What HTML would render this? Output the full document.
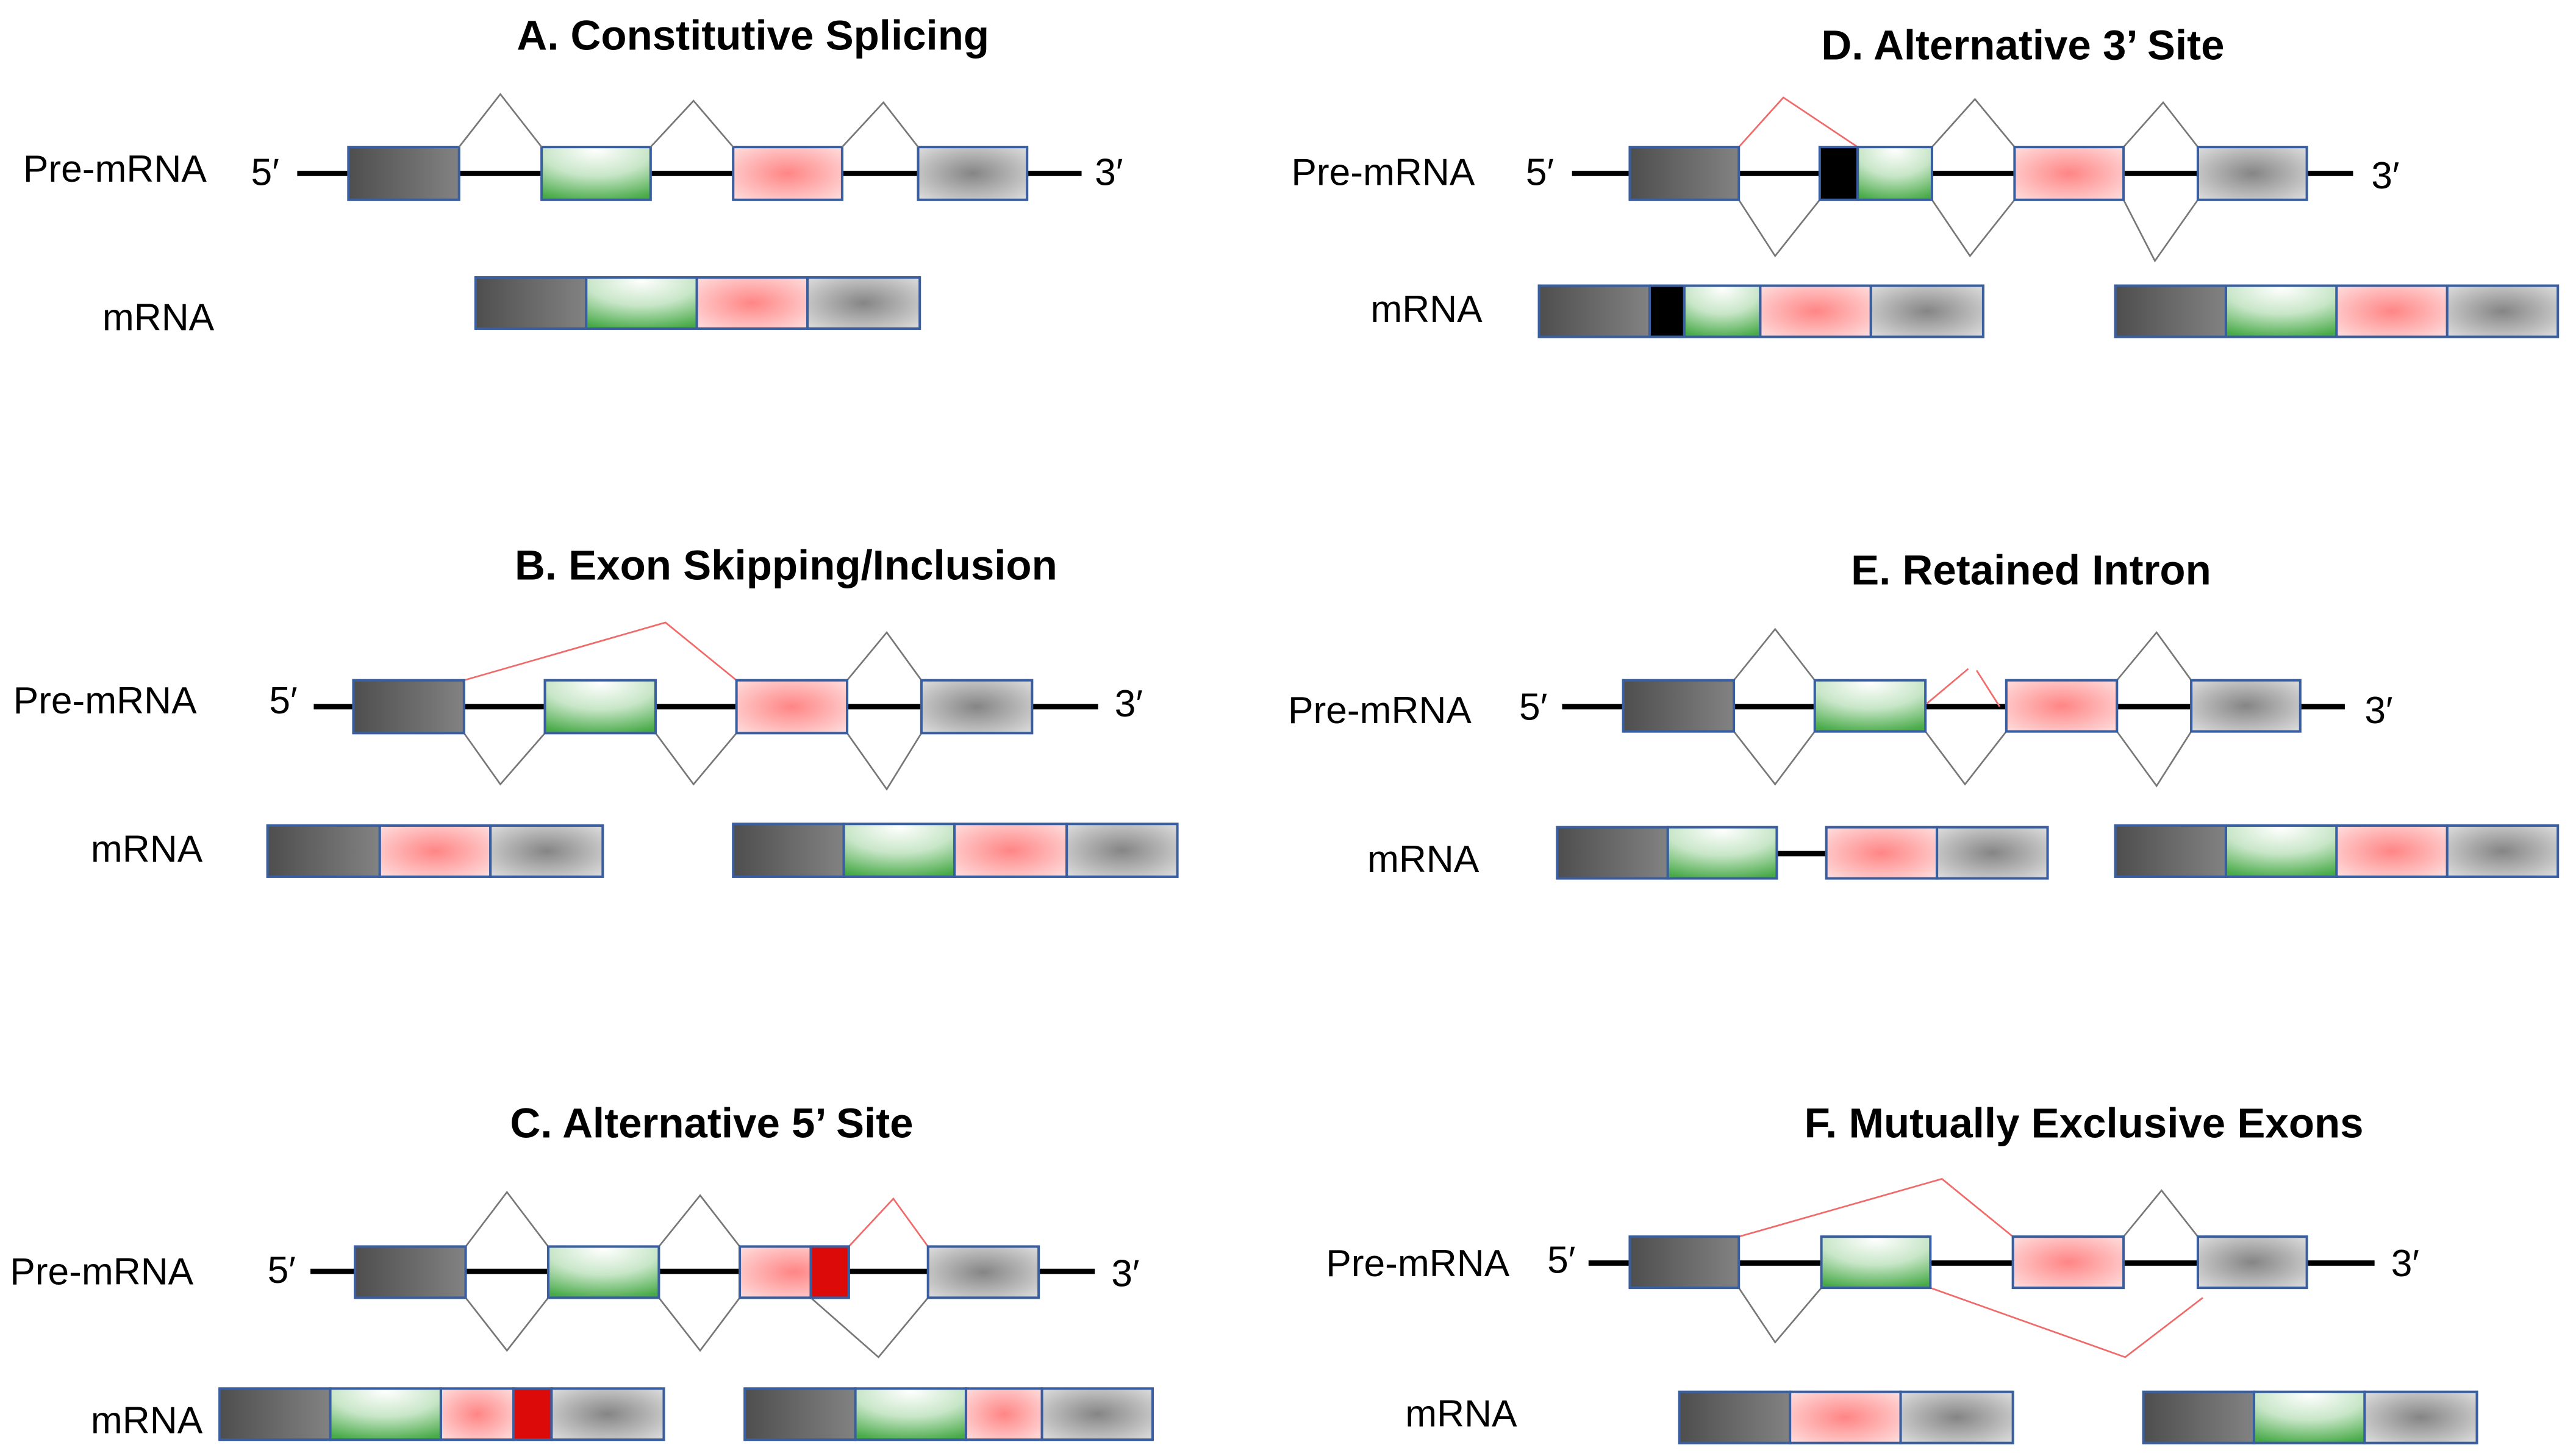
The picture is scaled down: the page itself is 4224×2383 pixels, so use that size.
<!DOCTYPE html>
<html><head><meta charset="utf-8"><style>
html,body{margin:0;padding:0;background:#fff;}
svg{display:block;}
text{font-family:"Liberation Sans",Arial,sans-serif;fill:#000;}
.t{font-weight:bold;font-size:25.5px;}
.l{font-size:23px;}
.ln{stroke:#000;stroke-width:3.2;fill:none;}
.g{stroke:#777;stroke-width:1;fill:none;}
.r{stroke:#f06a6a;stroke-width:1;fill:none;}
.e{stroke:#3a5fa0;stroke-width:1.5;}
</style></head><body>
<svg width="4224" height="2383" viewBox="0 0 1560 880" xmlns="http://www.w3.org/2000/svg">
<defs>
<linearGradient id="dk" x1="0" x2="1" y1="0" y2="0"><stop offset="0" stop-color="#4e4e4e"/><stop offset="1" stop-color="#828282"/></linearGradient>
<radialGradient id="gr" cx="0.5" cy="0.05" r="1.0"><stop offset="0" stop-color="#ffffff"/><stop offset="0.5" stop-color="#c8e6c8"/><stop offset="1" stop-color="#47aa47"/></radialGradient>
<radialGradient id="pk" cx="0.5" cy="0.5" r="0.75"><stop offset="0" stop-color="#ff8585"/><stop offset="1" stop-color="#ffe4e4"/></radialGradient>
<radialGradient id="gy" cx="0.5" cy="0.5" r="0.75"><stop offset="0" stop-color="#858585"/><stop offset="1" stop-color="#e4e4e4"/></radialGradient>
</defs>
<rect width="1560" height="880" fill="#fff"/>

<!-- A -->
<text class="t" x="456" y="30" text-anchor="middle">A. Constitutive Splicing</text>
<text class="l" x="14" y="110">Pre-mRNA</text>
<text class="l" x="152" y="112">5′</text><text class="l" x="663" y="112">3′</text>
<line class="ln" x1="180" y1="105" x2="655" y2="105"/>
<rect class="e" x="211" y="89" width="67" height="32" fill="url(#dk)"/>
<rect class="e" x="328" y="89" width="66" height="32" fill="url(#gr)"/>
<rect class="e" x="444" y="89" width="66" height="32" fill="url(#pk)"/>
<rect class="e" x="556" y="89" width="66" height="32" fill="url(#gy)"/>
<polyline class="g" points="278,89 303,57 328,89"/>
<polyline class="g" points="394,89 420,61 444,89"/>
<polyline class="g" points="510,89 535,62 556,89"/>
<text class="l" x="62" y="200">mRNA</text>
<rect class="e" x="288" y="168" width="67" height="31" fill="url(#dk)"/>
<rect class="e" x="355" y="168" width="67" height="31" fill="url(#gr)"/>
<rect class="e" x="422" y="168" width="67" height="31" fill="url(#pk)"/>
<rect class="e" x="489" y="168" width="68" height="31" fill="url(#gy)"/>

<!-- B -->
<text class="t" x="476" y="351" text-anchor="middle">B. Exon Skipping/Inclusion</text>
<text class="l" x="8" y="432">Pre-mRNA</text>
<text class="l" x="163" y="432">5′</text><text class="l" x="675" y="434">3′</text>
<line class="ln" x1="190" y1="428" x2="665" y2="428"/>
<polyline class="r" points="281,412 403,377 446,412"/>
<polyline class="g" points="513,412 537,383 558,412"/>
<polyline class="g" points="281,444 303,475 330,444"/>
<polyline class="g" points="397,444 420,475 446,444"/>
<polyline class="g" points="513,444 537,478 558,444"/>
<rect class="e" x="214" y="412" width="67" height="32" fill="url(#dk)"/>
<rect class="e" x="330" y="412" width="67" height="32" fill="url(#gr)"/>
<rect class="e" x="446" y="412" width="67" height="32" fill="url(#pk)"/>
<rect class="e" x="558" y="412" width="67" height="32" fill="url(#gy)"/>
<text class="l" x="55" y="522">mRNA</text>
<rect class="e" x="162" y="500" width="68" height="31" fill="url(#dk)"/>
<rect class="e" x="230" y="500" width="67" height="31" fill="url(#pk)"/>
<rect class="e" x="297" y="500" width="68" height="31" fill="url(#gy)"/>
<rect class="e" x="444" y="499" width="67" height="32" fill="url(#dk)"/>
<rect class="e" x="511" y="499" width="67" height="32" fill="url(#gr)"/>
<rect class="e" x="578" y="499" width="68" height="32" fill="url(#pk)"/>
<rect class="e" x="646" y="499" width="67" height="32" fill="url(#gy)"/>

<!-- C -->
<text class="t" x="431" y="689" text-anchor="middle">C. Alternative 5’ Site</text>
<text class="l" x="6" y="778">Pre-mRNA</text>
<text class="l" x="162" y="777">5′</text><text class="l" x="673" y="779">3′</text>
<line class="ln" x1="188" y1="770" x2="663" y2="770"/>
<polyline class="g" points="282,755 307,722 332,755"/>
<polyline class="g" points="399,755 424,724 448,755"/>
<polyline class="r" points="514,755 541,726 562,755"/>
<polyline class="g" points="282,786 307,818 332,786"/>
<polyline class="g" points="399,786 424,818 448,786"/>
<polyline class="g" points="491,786 532,822 562,786"/>
<rect class="e" x="215" y="755" width="67" height="31" fill="url(#dk)"/>
<rect class="e" x="332" y="755" width="67" height="31" fill="url(#gr)"/>
<rect class="e" x="448" y="755" width="66" height="31" fill="url(#pk)"/>
<rect x="491" y="755" width="23" height="31" fill="#dd0a0a" stroke="#3a5fa0" stroke-width="1.5"/>
<rect class="e" x="562" y="755" width="67" height="31" fill="url(#gy)"/>
<text class="l" x="55" y="868">mRNA</text>
<rect class="e" x="133" y="841" width="67" height="31" fill="url(#dk)"/>
<rect class="e" x="200" y="841" width="67" height="31" fill="url(#gr)"/>
<rect class="e" x="267" y="841" width="44" height="31" fill="url(#pk)"/>
<rect x="311" y="841" width="23" height="31" fill="#dd0a0a" stroke="#3a5fa0" stroke-width="1.5"/>
<rect class="e" x="334" y="841" width="68" height="31" fill="url(#gy)"/>
<rect class="e" x="451" y="841" width="67" height="31" fill="url(#dk)"/>
<rect class="e" x="518" y="841" width="67" height="31" fill="url(#gr)"/>
<rect class="e" x="585" y="841" width="46" height="31" fill="url(#pk)"/>
<rect class="e" x="631" y="841" width="67" height="31" fill="url(#gy)"/>

<!-- D -->
<text class="t" x="1225" y="36" text-anchor="middle">D. Alternative 3’ Site</text>
<text class="l" x="782" y="112">Pre-mRNA</text>
<text class="l" x="924" y="112">5′</text><text class="l" x="1436" y="114">3′</text>
<line class="ln" x1="952" y1="105" x2="1425" y2="105"/>
<polyline class="r" points="1053,89 1080,59 1125,89"/>
<polyline class="g" points="1170,89 1196,60 1220,89"/>
<polyline class="g" points="1286,89 1310,62 1331,89"/>
<polyline class="g" points="1053,121 1075,155 1102,121"/>
<polyline class="g" points="1170,121 1193,155 1220,121"/>
<polyline class="g" points="1286,121 1305,158 1331,121"/>
<rect class="e" x="987" y="89" width="66" height="32" fill="url(#dk)"/>
<rect x="1102" y="89" width="23" height="32" fill="#000" stroke="#3a5fa0" stroke-width="1.5"/>
<rect class="e" x="1125" y="89" width="45" height="32" fill="url(#gr)"/>
<rect class="e" x="1220" y="89" width="66" height="32" fill="url(#pk)"/>
<rect class="e" x="1331" y="89" width="66" height="32" fill="url(#gy)"/>
<text class="l" x="830" y="195">mRNA</text>
<rect class="e" x="932" y="173" width="67" height="31" fill="url(#dk)"/>
<rect x="999" y="173" width="21" height="31" fill="#000" stroke="#3a5fa0" stroke-width="1.5"/>
<rect class="e" x="1020" y="173" width="46" height="31" fill="url(#gr)"/>
<rect class="e" x="1066" y="173" width="67" height="31" fill="url(#pk)"/>
<rect class="e" x="1133" y="173" width="68" height="31" fill="url(#gy)"/>
<rect class="e" x="1281" y="173" width="67" height="31" fill="url(#dk)"/>
<rect class="e" x="1348" y="173" width="67" height="31" fill="url(#gr)"/>
<rect class="e" x="1415" y="173" width="67" height="31" fill="url(#pk)"/>
<rect class="e" x="1482" y="173" width="67" height="31" fill="url(#gy)"/>

<!-- E -->
<text class="t" x="1230" y="354" text-anchor="middle">E. Retained Intron</text>
<text class="l" x="780" y="438">Pre-mRNA</text>
<text class="l" x="920" y="436">5′</text><text class="l" x="1432" y="438">3′</text>
<line class="ln" x1="946" y1="428" x2="1420" y2="428"/>
<polyline class="g" points="1050,412 1075,381 1099,412"/>
<line class="r" x1="1167" y1="426" x2="1192" y2="405"/>
<line class="r" x1="1197" y1="406" x2="1211" y2="428"/>
<polyline class="g" points="1282,412 1306,383 1327,412"/>
<polyline class="g" points="1050,443 1075,475 1099,443"/>
<polyline class="g" points="1166,443 1190,475 1215,443"/>
<polyline class="g" points="1282,443 1306,476 1327,443"/>
<rect class="e" x="983" y="412" width="67" height="31" fill="url(#dk)"/>
<rect class="e" x="1099" y="412" width="67" height="31" fill="url(#gr)"/>
<rect class="e" x="1215" y="412" width="67" height="31" fill="url(#pk)"/>
<rect class="e" x="1327" y="412" width="66" height="31" fill="url(#gy)"/>
<text class="l" x="828" y="528">mRNA</text>
<line class="ln" x1="1076" y1="517" x2="1106" y2="517"/>
<rect class="e" x="943" y="501" width="67" height="31" fill="url(#dk)"/>
<rect class="e" x="1010" y="501" width="66" height="31" fill="url(#gr)"/>
<rect class="e" x="1106" y="501" width="67" height="31" fill="url(#pk)"/>
<rect class="e" x="1173" y="501" width="67" height="31" fill="url(#gy)"/>
<rect class="e" x="1281" y="500" width="67" height="31" fill="url(#dk)"/>
<rect class="e" x="1348" y="500" width="67" height="31" fill="url(#gr)"/>
<rect class="e" x="1415" y="500" width="67" height="31" fill="url(#pk)"/>
<rect class="e" x="1482" y="500" width="67" height="31" fill="url(#gy)"/>

<!-- F -->
<text class="t" x="1262" y="689" text-anchor="middle">F. Mutually Exclusive Exons</text>
<text class="l" x="803" y="773">Pre-mRNA</text>
<text class="l" x="937" y="771">5′</text><text class="l" x="1448" y="773">3′</text>
<line class="ln" x1="962" y1="765" x2="1438" y2="765"/>
<polyline class="r" points="1053,749 1176,714 1219,749"/>
<polyline class="g" points="1286,749 1309,721 1331,749"/>
<polyline class="g" points="1053,780 1075,813 1103,780"/>
<polyline class="r" points="1169,780 1287,822 1334,786"/>
<rect class="e" x="987" y="749" width="66" height="31" fill="url(#dk)"/>
<rect class="e" x="1103" y="749" width="66" height="31" fill="url(#gr)"/>
<rect class="e" x="1219" y="749" width="67" height="31" fill="url(#pk)"/>
<rect class="e" x="1331" y="749" width="66" height="31" fill="url(#gy)"/>
<text class="l" x="851" y="864">mRNA</text>
<rect class="e" x="1017" y="843" width="67" height="31" fill="url(#dk)"/>
<rect class="e" x="1084" y="843" width="67" height="31" fill="url(#pk)"/>
<rect class="e" x="1151" y="843" width="68" height="31" fill="url(#gy)"/>
<rect class="e" x="1298" y="843" width="67" height="31" fill="url(#dk)"/>
<rect class="e" x="1365" y="843" width="67" height="31" fill="url(#gr)"/>
<rect class="e" x="1432" y="843" width="68" height="31" fill="url(#gy)"/>
</svg>
</body></html>
